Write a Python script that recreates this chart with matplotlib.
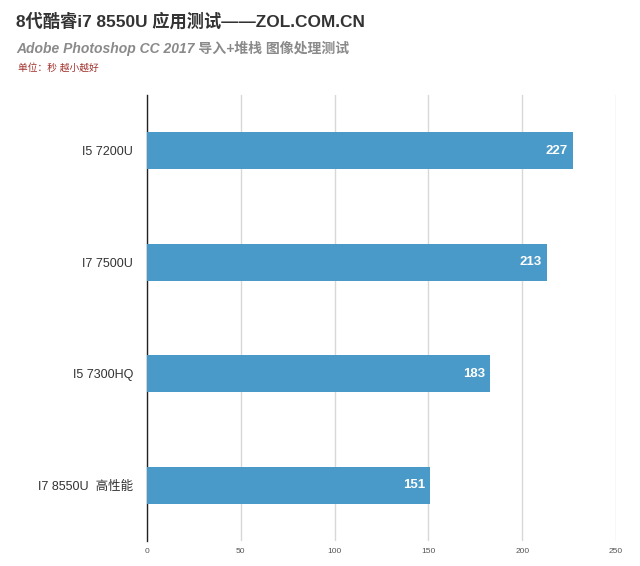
import matplotlib
matplotlib.use("Agg")
import matplotlib.pyplot as plt

plt.rcParams['font.family'] = ['Liberation Sans', 'Noto Sans CJK SC', 'DejaVu Sans']

categories = ["I5 7200U", "I7 7500U", "I5 7300HQ", "I7 8550U  高性能"]
values = [227, 213, 183, 151]
xticks = [0, 50, 100, 150, 200, 250]

title = "8代酷睿i7 8550U 应用测试——ZOL.COM.CN"
subtitle = "Adobe Photoshop CC 2017 导入+堆栈 图像处理测试"
unit = "单位：秒 越小越好"

W, H = 640, 566
fig = plt.figure(figsize=(W/100, H/100), dpi=100)
ax = fig.add_axes([147/W, 1-541/H, (616-147)/W, (541-95)/H])

ypos = list(range(len(categories)))
bars = ax.barh(ypos, values, height=0.33, color="#4a9ac9", zorder=3)
ax.set_ylim(len(categories)-0.5, -0.5)
ax.set_xlim(0, 250)
ax.set_xticks(xticks)
ax.set_xticklabels([str(t) for t in xticks], fontsize=6, color="#555555")
ax.set_yticks(ypos)
ax.set_yticklabels(categories, fontsize=9, color="#333333")
ax.tick_params(axis='y', length=0, pad=10)
ax.tick_params(axis='x', length=0, pad=5)
ax.grid(axis='x', color="#d8d8d8", linewidth=1, zorder=0)
for s in ['top', 'right', 'bottom']:
    ax.spines[s].set_visible(False)
ax.spines['left'].set_color("#222222")
ax.spines['left'].set_linewidth(1)

for b, v in zip(bars, values):
    ax.annotate(str(v), xy=(v, b.get_y()+b.get_height()/2), xytext=(-3.6, 0),
                textcoords='offset points', ha='right', va='center',
                color='white', fontsize=9.5, fontweight='bold', zorder=4)

fig.text(16/W, 1-21/H, title, fontsize=12.4, fontweight='bold', color="#333333", va='center', ha='left')
fig.text(16/W, 1-48/H, subtitle, fontsize=10, fontweight='bold', style='italic', color="#8a8a8a", va='center', ha='left')
fig.text(18/W, 1-68/H, unit, fontsize=7, color="#a0322c", va='center', ha='left')

fig.savefig("out.png", dpi=100)
